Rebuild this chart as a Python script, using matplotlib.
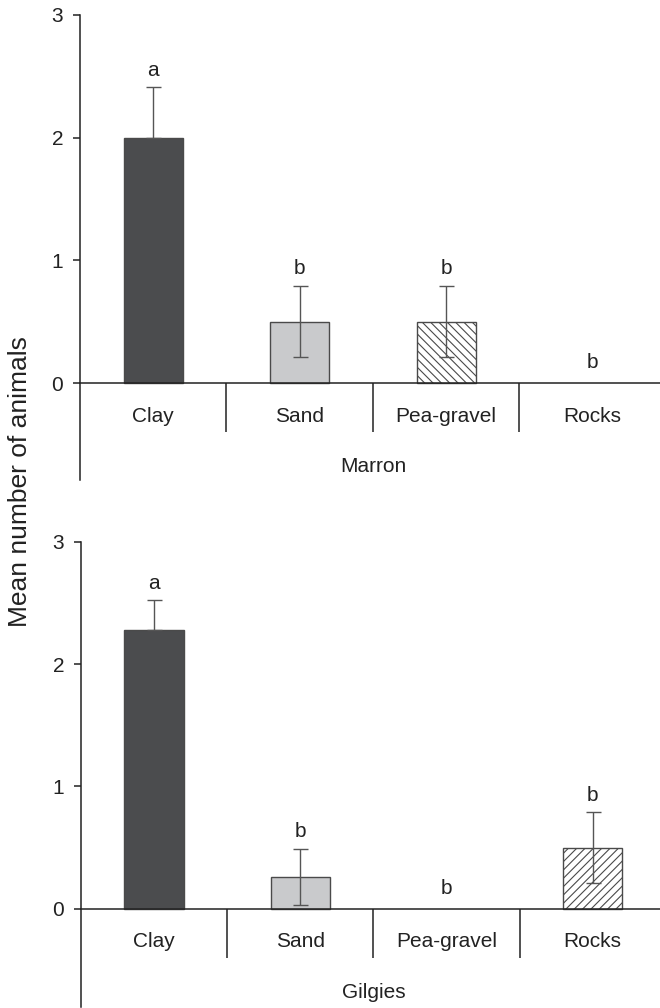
import matplotlib
matplotlib.use("Agg")
import matplotlib.pyplot as plt
import matplotlib.transforms as mtransforms

plt.rcParams['font.family'] = ['Liberation Sans', 'DejaVu Sans']
plt.rcParams['hatch.linewidth'] = 0.8

# Data
categories = ["Clay", "Sand", "Pea-gravel", "Rocks"]
panels = ["Marron", "Gilgies"]
marron_mean = [2.0, 0.5, 0.5, 0.0]
marron_err_hi = [0.41, 0.29, 0.29, 0.0]
marron_err_lo = [0.0, 0.29, 0.29, 0.0]
marron_letters = ["a", "b", "b", "b"]
gilgies_mean = [2.28, 0.26, 0.0, 0.5]
gilgies_err_hi = [0.24, 0.23, 0.0, 0.29]
gilgies_err_lo = [0.0, 0.23, 0.0, 0.29]
gilgies_letters = ["a", "b", "b", "b"]

# Styles per category
faces = ['#4b4c4e', '#c9cacc', 'white', 'white']
marron_hatch = [None, None, '\\\\\\\\', None]
gilgies_hatch = [None, None, None, '////']

ink = '#222222'
edge = '#4a4a4a'

fig = plt.figure(figsize=(6.6, 10.08), dpi=100)
W, H = 660.0, 1008.0
ax_top = fig.add_axes([80 / W, 1 - 480 / H, 1 - 80 / W, (480 - 15) / H])
ax_bot = fig.add_axes([81 / W, 1 - 1006.7 / H, 1 - 81 / W, (1006.7 - 541.7) / H])


def draw_panel(ax, means, err_lo, err_hi, letters, hatches, name, ybot):
    x = [i + 0.5 for i in range(len(categories))]
    for i in range(len(categories)):
        if means[i] > 0:
            ax.bar(x[i], means[i], width=0.405, color=faces[i], edgecolor=edge,
                   linewidth=1.0, hatch=hatches[i], zorder=2)
            ax.errorbar(x[i], means[i], yerr=[[err_lo[i]], [err_hi[i]]], color='#555555',
                        capsize=5.4, elinewidth=1.0, capthick=1.0, zorder=3)
            ty = means[i] + err_hi[i] + 0.14
        else:
            ty = 0.17
        ax.text(x[i], ty, letters[i], ha='center', va='center', fontsize=15, color=ink)

    ax.set_xlim(0, 3.96)
    ax.set_ylim(ybot, 3)
    ax.set_yticks([0, 1, 2, 3])
    ax.set_xticks([1, 2, 3])
    ax.set_xticklabels([])
    ax.set_xticks(x, categories, minor=True)

    for s in ['top', 'right']:
        ax.spines[s].set_visible(False)
    ax.spines['bottom'].set_position(('data', 0))
    for s in ['left', 'bottom']:
        ax.spines[s].set_color(ink)
        ax.spines[s].set_linewidth(1.1)

    ax.tick_params(axis='y', direction='out', length=5, width=1.1, pad=7,
                   labelsize=15, colors=ink)
    ax.tick_params(axis='x', which='major', direction='out', length=35, width=1.1,
                   colors=ink)
    ax.tick_params(axis='x', which='minor', length=0, pad=17, labelsize=15,
                   labelcolor=ink)

    trans = mtransforms.blended_transform_factory(ax.transAxes, ax.transData)
    ax.text(0.505, -0.68, name, transform=trans, ha='center', va='center',
            fontsize=15, color=ink)


draw_panel(ax_top, marron_mean, marron_err_lo, marron_err_hi, marron_letters,
           marron_hatch, panels[0], -0.79)
draw_panel(ax_bot, gilgies_mean, gilgies_err_lo, gilgies_err_hi, gilgies_letters,
           gilgies_hatch, panels[1], -0.80)

fig.text(20 / W, 1 - 482 / H, "Mean number of animals", rotation=90,
         ha='center', va='center', fontsize=19, color=ink)

fig.savefig("out.png", dpi=100)
